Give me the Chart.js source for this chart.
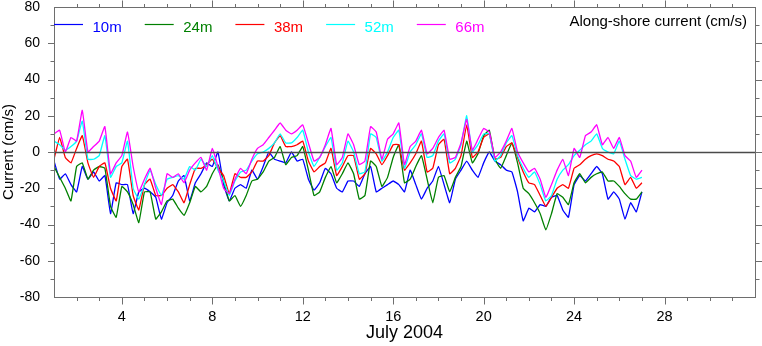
<!DOCTYPE html>
<html>
<head>
<meta charset="utf-8">
<title>Along-shore current, July 2004</title>
<script src="https://cdn.jsdelivr.net/npm/chart.js@4/dist/chart.umd.min.js"></script>
<style>
  html, body { margin: 0; padding: 0; background: #ffffff; }
  #wrap { width: 762px; height: 346px; }
</style>
</head>
<body>
<div id="wrap"><canvas id="chart" width="762" height="346"></canvas></div>
<script>
// Mooring record: along-shore current at five depths, 6-hourly samples from 1 July 2004.
const startDay = 1;          // day of July of the first sample
const sampleStepDays = 0.25; // 6 hours

const depths = ['10m', '24m', '38m', '52m', '66m'];
const colors = ['#0000ff', '#008000', '#ff0000', '#00ffff', '#ff00ff'];

// current (cm/s)
const cur10m = [
  -5, -15, -12, -18, -22, -8, -15, -11, -16, -13, -34, -17, -18, -18, -34, -22, -20, -22, -25, -37,
  -28, -24, -16, -13, -27, -17, -12, -6, -8, 0, -18, -27, -20, -18, -20, -10, -15, -8, 0, -4,
  -5, -6, 0, -5, -4, -15, -21, -17, -9, -12, -20, -22, -16, -16, -19, -12, -8, -22, -20, -18,
  -16, -18, -22, -10, -18, -26, -20, -16, -8, -18, -28, -15, -10, -5, -10, -14, -6, 0, -5, -7,
  -10, -11, -22, -38, -31, -33, -29, -30, -25, -24, -32, -36, -18, -13, -16, -12, -8, -12, -26, -22,
  -26, -37, -28, -33, -22
];
const cur24m = [
  -8, -14, -20, -27, -8, -6, -15, -10, -8, -9, -30, -36, -19, -22, -29, -39, -22, -22, -37, -33,
  -27, -26, -31, -35, -28, -19, -22, -19, -12, -7, -16, -27, -24, -30, -24, -16, -15, -11, -5, -3,
  3, -7, -3, -2, 3, -10, -24, -22, -14, -8, -17, -12, -6, -12, -26, -24, -5, -8, -19, -14,
  -3, 4, -17, -15, -8, -2, -15, -28, -14, -13, -22, -14, -8, 6, -6, -1, 9, 12, -4, -9,
  -2, 5, -6, -20, -23, -28, -34, -43, -34, -23, -25, -29, -17, -12, -17, -14, -12, -11, -16, -16,
  -19, -23, -26, -26, -22
];
const cur38m = [
  -4, 8, -3, -6, 2, 9, -6, -14, -8, -6, -20, -27, -8, -4, -24, -32, -18, -15, -24, -24,
  -20, -18, -22, -28, -18, -9, -9, -7, -4, -9, -13, -23, -12, -14, -14, -11, -5, -5, -2, 5,
  9, 3, 3, 4, 6, -5, -11, -8, -6, 2, -13, -8, -2, -2, -15, -12, 2, -1, -7, -2,
  4, 4, -10, -6, -1, 6, -11, -9, 4, 7, -12, -9, -2, 15, -3, 0, 8, 10, -4, -3,
  3, 5, -3, -11, -17, -18, -24, -30, -25, -20, -18, -20, -9, -7, -4, -2, -1, -2, -4, -5,
  -8, -18, -14, -20, -17
];
const cur52m = [
  6, 4, 1, 3, 6, 17, -4, -4, -2, 9, -14, -8, -6, 6, -20, -26, -18, -10, -18, -24,
  -15, -14, -13, -15, -8, -10, -4, -8, -2, -10, -16, -24, -16, -11, -10, -5, -1, 0, 2, 5,
  10, 5, 5, 8, 12, 0, -8, -3, 3, 8, -10, -6, 6, 0, -12, -11, 10, 8, -5, 0,
  8, 12, -9, 0, 4, 10, -3, -2, 6, 10, -6, -4, 4, 20, 0, 4, 10, 10, -5, -2,
  5, 9, -2, -9, -14, -11, -18, -27, -24, -15, -10, -7, -2, 1, 4, 6, 10, 2, 0, -1,
  6, -4, -13, -15, -14
];
const cur66m = [
  10, 12, 0, 8, 6, 23, 0, 3, 6, 14, -12, -6, -2, 11, -8, -22, -15, -9, -20, -29,
  -12, -14, -12, -17, -10, -6, -3, -10, 2, -8, -20, -23, -15, -9, -12, -4, 2, 4, 8, 12,
  16, 12, 10, 12, 15, 5, -5, -3, 4, 13, -7, -3, 10, 4, -7, -5, 14, 11, -4, 7,
  10, 16, -7, 3, 6, 12, -1, 2, 8, 12, -4, -3, 5, 18, 1, 7, 13, 11, -3, 0,
  6, 13, 0, -6, -11, -9, -15, -25, -18, -10, -4, -13, 2, -3, 9, 11, 15, 4, 8, 2,
  8, -2, -5, -14, -10
];

const seriesValues = [cur10m, cur24m, cur38m, cur52m, cur66m];

// axis ticks
const xTickLabels = [4, 8, 12, 16, 20, 24, 28];
const yTickLabels = [-80, -60, -40, -20, 0, 20, 40, 60, 80];
const xRange = [1, 32];
const yRange = [-80, 80];

const fontFamily = '"Liberation Sans", Arial, Helvetica, sans-serif';

function toPoints(values) {
  return values.map((v, i) => ({ x: startDay + i * sampleStepDays, y: v }));
}

const datasets = depths.map((name, k) => ({
  label: name,
  data: toPoints(seriesValues[k]),
  borderColor: colors[k],
  backgroundColor: colors[k],
  borderWidth: 1.3,
  pointRadius: 0,
  tension: 0.1,
  fill: false,
  order: depths.length - k
}));

// frame, outward tick marks, zero line, legend and titles
const decorations = {
  id: 'decorations',
  afterDatasetsDraw(chart) {
    const ctx = chart.ctx;
    const a = chart.chartArea;
    const xs = chart.scales.x;
    const ys = chart.scales.y;
    ctx.save();

    // zero line
    const y0 = Math.round(ys.getPixelForValue(0)) + 0.5;
    ctx.strokeStyle = '#4a4a4a';
    ctx.lineWidth = 1.6;
    ctx.beginPath();
    ctx.moveTo(a.left, y0);
    ctx.lineTo(a.right, y0);
    ctx.stroke();

    // frame
    ctx.strokeStyle = '#6e6e6e';
    ctx.lineWidth = 1;
    const L = Math.round(a.left) + 0.5, R = Math.round(a.right) + 0.5;
    const T = Math.round(a.top) + 0.5, B = Math.round(a.bottom) + 0.5;
    ctx.strokeRect(L, T, R - L, B - T);

    // x ticks, one per day, longer every fourth day
    ctx.beginPath();
    for (let d = Math.ceil(xRange[0]) + 1; d < xRange[1]; d++) {
      const px = Math.round(xs.getPixelForValue(d)) + 0.5;
      const len = d % 4 === 0 ? 7 : 3.5;
      ctx.moveTo(px, B); ctx.lineTo(px, B + len);
      ctx.moveTo(px, T); ctx.lineTo(px, T - len);
    }
    // y ticks every 10, longer every 20
    for (let v = yRange[0] + 10; v < yRange[1]; v += 10) {
      const py = Math.round(ys.getPixelForValue(v)) + 0.5;
      const len = v % 20 === 0 ? 6.5 : 4;
      ctx.moveTo(L, py); ctx.lineTo(L - len, py);
      ctx.moveTo(R, py); ctx.lineTo(R + len, py);
    }
    ctx.stroke();

    // legend
    ctx.font = '15px ' + fontFamily;
    ctx.textBaseline = 'alphabetic';
    ctx.textAlign = 'left';
    const legY = 24.5;
    depths.forEach((name, k) => {
      const x0 = a.left + k * 90.7;
      ctx.strokeStyle = colors[k];
      ctx.lineWidth = 1.2;
      ctx.beginPath();
      ctx.moveTo(x0, legY);
      ctx.lineTo(x0 + 29, legY);
      ctx.stroke();
      ctx.fillStyle = colors[k];
      ctx.fillText(name, x0 + 38.5, 31.5);
    });

    // panel label
    ctx.fillStyle = '#000000';
    ctx.textAlign = 'right';
    ctx.fillText('Along-shore current (cm/s)', 747, 26);

    // axis titles
    ctx.textAlign = 'center';
    ctx.font = '18px ' + fontFamily;
    ctx.fillText('July 2004', (a.left + a.right) / 2, 338);

    ctx.font = '15px ' + fontFamily;
    ctx.translate(13, (a.top + a.bottom) / 2);
    ctx.rotate(-Math.PI / 2);
    ctx.fillText('Current (cm/s)', 0, 0);

    ctx.restore();
  }
};

new Chart(document.getElementById('chart'), {
  type: 'line',
  data: { datasets },
  options: {
    responsive: false,
    animation: false,
    devicePixelRatio: 1,
    layout: { padding: { top: 7, right: 7, left: 0, bottom: 0 } },
    plugins: { legend: { display: false }, tooltip: { enabled: false } },
    scales: {
      x: {
        type: 'linear',
        min: xRange[0],
        max: xRange[1],
        grid: { display: false, drawTicks: false, tickLength: 0 },
        border: { display: false },
        afterBuildTicks(scale) { scale.ticks = xTickLabels.map(v => ({ value: v })); },
        afterFit(scale) {
          scale.height = 49;
          scale.paddingLeft = 0;
          scale.paddingRight = 0;
        },
        ticks: {
          autoSkip: false,
          maxRotation: 0,
          padding: 11,
          color: '#000000',
          font: { family: fontFamily, size: 14.5 },
          callback: v => String(v)
        }
      },
      y: {
        type: 'linear',
        min: yRange[0],
        max: yRange[1],
        grid: { display: false, drawTicks: false, tickLength: 0 },
        border: { display: false },
        afterBuildTicks(scale) { scale.ticks = yTickLabels.map(v => ({ value: v })); },
        afterFit(scale) {
          scale.width = 54;
          scale.paddingTop = 0;
          scale.paddingBottom = 0;
        },
        ticks: {
          autoSkip: false,
          padding: 14,
          color: '#000000',
          font: { family: fontFamily, size: 14 },
          callback: v => String(v)
        }
      }
    }
  },
  plugins: [decorations]
});
</script>
</body>
</html>
